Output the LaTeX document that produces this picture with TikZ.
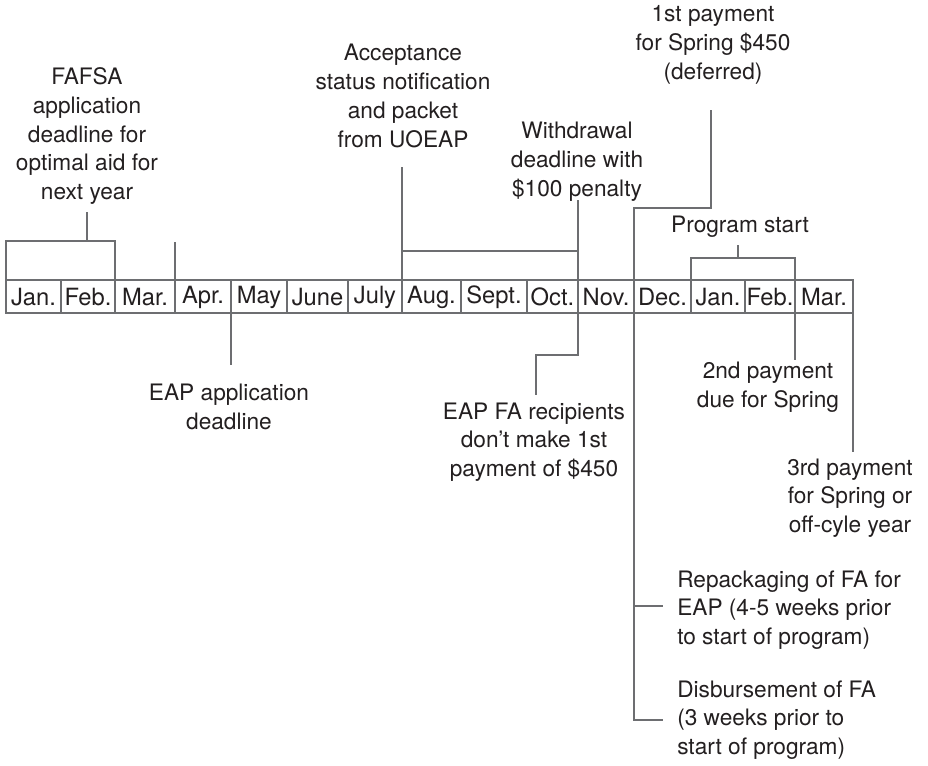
\documentclass[tikz,border=0pt]{standalone}
\usepackage{fontspec}
\setmainfont{TeX Gyre Heros}
\definecolor{linegray}{HTML}{6D6E71}
\definecolor{txt}{HTML}{231F20}
\tikzset{
  ln/.style={draw=linegray, line width=2pt, line join=miter},
  lbl/.style={text=txt, font=\fontsize{17}{21.6}\selectfont, align=center, inner sep=0pt},
  lblw/.style={lbl, align=left, anchor=west},
  mon/.style={text=txt, font=\fontsize{17.8}{20}\selectfont, inner sep=0pt},
}
\begin{document}
\begin{tikzpicture}[x=0.75pt, y=-0.75pt]
\useasboundingbox (0,0) rectangle (928,765);
% timeline boundaries
\foreach \x [count=\i from 0] in {6,61,115,175,231,287,348,402,461,527,578,634,691,745,795,853} {
  \coordinate (t\i) at (\x,280);
  \coordinate (u\i) at (\x,313);
}
\foreach \a/\b/\m [count=\i] in {6/61/Jan., 61/115/Feb., 115/175/Mar., 175/231/Apr., 231/287/May, 287/348/June, 348/402/July, 402/461/Aug., 461/527/Sept., 527/578/Oct., 578/634/Nov., 634/691/Dec., 691/745/Jan., 745/795/Feb., 795/853/Mar.} {
  \node[mon] (m\i) at ({(\a+\b)/2}, 297) {\m};
}
\draw[ln] (t0) rectangle (u15);
\foreach \i in {1,...,14} { \draw[ln] (t\i) -- (u\i); }

% labels
\node[lbl] (fafsa) at (87,136) {FAFSA\\application\\deadline for\\optimal aid for\\next year};
\node[lbl] (accept) at (403,96) {Acceptance\\status notification\\and packet\\from UOEAP};
\node[lbl] (withdraw) at (577,162) {Withdrawal\\deadline with\\\$100 penalty};
\node[lbl] (pay1) at (713,45) {1st payment\\for Spring \$450\\(deferred)};
\node[lbl] (prog) at (740,227) {Program start};
\node[lbl] (eapapp) at (229,407) {EAP application\\deadline};
\node[lbl] (eapfa) at (534,442) {EAP FA recipients\\don’t make 1st\\payment of \$450};
\node[lbl] (pay2) at (768,387) {2nd payment\\due for Spring};
\node[lbl] (pay3) at (850,498) {3rd payment\\for Spring or\\off-cyle year};
\node[lblw] (repack) at (677,610) {Repackaging of FA for\\EAP (4-5 weeks prior\\to start of program)};
\node[lblw] (disb) at (677,720) {Disbursement of FA\\(3 weeks prior to\\start of program)};

% connector coordinates
\coordinate (fa1) at (6,241);
\coordinate (fa2) at (115,241);
\coordinate (fa3) at (87,241);
\coordinate (fa4) at (87,212);
\coordinate (ap1) at (175,242);
\coordinate (ac1) at (402,167);
\coordinate (ac2) at (402,251);
\coordinate (ac3) at (578,251);
\coordinate (wd1) at (578,200);
\coordinate (p1a) at (711,110);
\coordinate (p1b) at (711,208);
\coordinate (p1c) at (634,208);
\coordinate (p1d) at (634,720);
\coordinate (rp1) at (634,606);
\coordinate (rp2) at (663,606);
\coordinate (ds2) at (663,720);
\coordinate (ps1) at (691,258);
\coordinate (ps2) at (795,258);
\coordinate (ps3) at (738,258);
\coordinate (ps4) at (738,245);
\coordinate (ea1) at (231,365);
\coordinate (ef1) at (578,355);
\coordinate (ef2) at (536,355);
\coordinate (ef3) at (536,395);
\coordinate (p2a) at (795,360);
\coordinate (p3a) at (853,452);

% connectors
\draw[ln] (t0) -- (fa1) -- (fa2) -- (t2);
\draw[ln] (fa3) -- (fa4);
\draw[ln] (t3) -- (ap1);
\draw[ln] (t7) -- (ac1);
\draw[ln] (ac2) -- (ac3);
\draw[ln] (t10) -- (wd1);
\draw[ln] (p1a) -- (p1b) -- (p1c) -- (p1d) -- (ds2);
\draw[ln] (rp1) -- (rp2);
\draw[ln] (t12) -- (ps1) -- (ps2) -- (t14);
\draw[ln] (ps3) -- (ps4);
\draw[ln] (u4) -- (ea1);
\draw[ln] (u10) -- (ef1) -- (ef2) -- (ef3);
\draw[ln] (u14) -- (p2a);
\draw[ln] (u15) -- (p3a);
\end{tikzpicture}
\end{document}
